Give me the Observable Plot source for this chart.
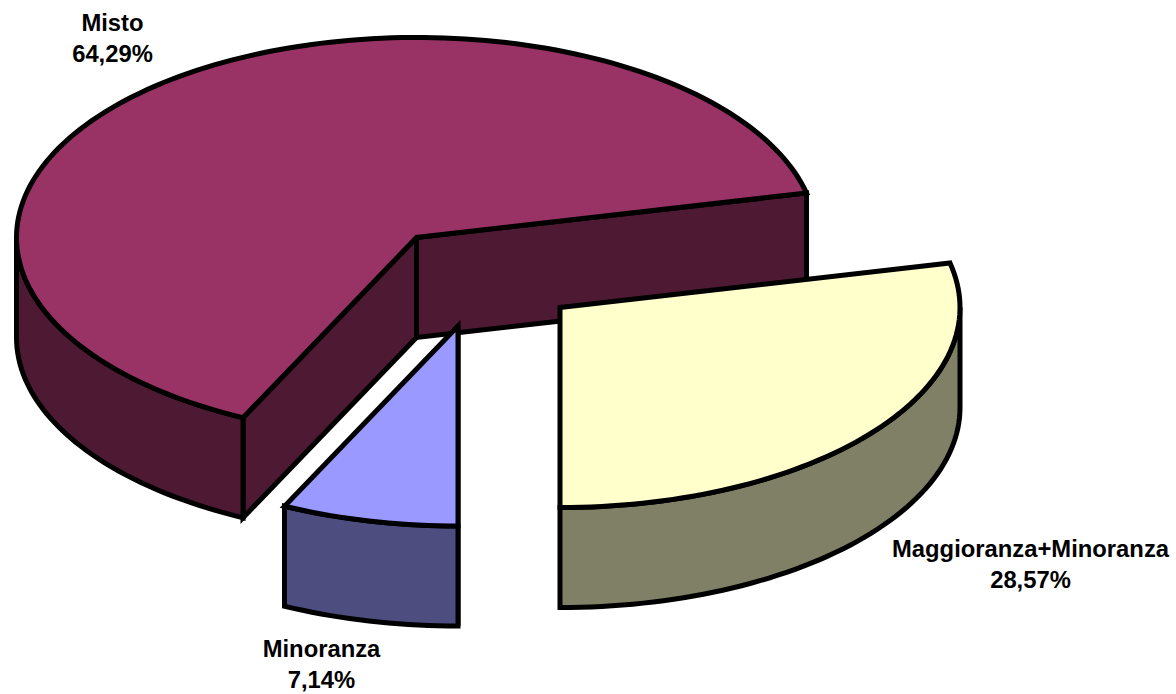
<!DOCTYPE html>
<html><head><meta charset="utf-8">
<script src="https://cdn.jsdelivr.net/npm/d3@7"></script>
<script src="https://cdn.jsdelivr.net/npm/@observablehq/plot@0.6"></script>
<style>html,body{margin:0;padding:0;background:#fff}svg{display:block}</style>
</head><body><div id="chart"></div>
<script>
const names = ["Misto", "Maggioranza+Minoranza", "Minoranza"];
const shares = [64.29, 28.57, 7.14];
const shareLabels = ["64,29%", "28,57%", "7,14%"];
const topColors = ["#993366", "#FFFFCC", "#9999FF"];
const sideColors = ["#4D1933", "#808066", "#4D4D80"];

// 3D projection of the pie
const rx = 400, ry = 200, depth = 100;
const centers = [[416, 237], [559.5, 307], [457.5, 325.5]];
const labelAnchors = [[112, 23], [1030, 549], [321, 649]];
const rad = d => d * Math.PI / 180;
const pt = (c, deg, dz = 0) => [c[0] + rx * Math.cos(rad(deg)), c[1] + ry * Math.sin(rad(deg)) + dz];
const arc = (c, a0, a1, dz = 0) => {
  const n = Math.max(2, Math.ceil(Math.abs(a1 - a0) / 1.5)), out = [];
  for (let i = 0; i <= n; i++) out.push(pt(c, a0 + (a1 - a0) * i / n, dz));
  return out;
};

// slice angles derived from the shares; Maggioranza+Minoranza ends at straight down
const deg = shares.map(s => s / d3.sum(shares) * 360);
const mEnd = 90, mStart = mEnd - deg[1];      // Maggioranza+Minoranza
const nStart = 90, nEnd = 90 + deg[2];        // Minoranza
const oStart = nEnd, oEnd = mStart + 360;     // Misto, clockwise round the back

const faces = [];
const add = (id, fill, pts) => pts.forEach(p => faces.push({id, fill, x: p[0], y: p[1]}));
const c0 = centers[0], c1 = centers[1], c2 = centers[2];
const down = p => [p[0], p[1] + depth];

// Misto walls
add("m-cutR", sideColors[0], [c0, pt(c0, mStart), down(pt(c0, mStart)), down(c0)]);
add("m-cutL", sideColors[0], [c0, pt(c0, oStart), down(pt(c0, oStart)), down(c0)]);
add("m-outer", sideColors[0], [...arc(c0, oStart, 180), ...arc(c0, 180, oStart, depth)]);
add("m-top", topColors[0], [c0, ...arc(c0, oStart, oEnd)]);
// Minoranza
add("n-cut", sideColors[2], [c2, pt(c2, nStart), down(pt(c2, nStart)), down(c2)]);
add("n-outer", sideColors[2], [...arc(c2, nStart, nEnd), ...arc(c2, nEnd, nStart, depth)]);
add("n-top", topColors[2], [c2, ...arc(c2, nStart, nEnd)]);
// Maggioranza+Minoranza
add("g-outer", sideColors[1], [...arc(c1, 0, 90), ...arc(c1, 90, 0, depth)]);
add("g-top", topColors[1], [c1, ...arc(c1, mStart, mEnd)]);

const labels = names.flatMap((n, i) => [
  {x: labelAnchors[i][0], y: labelAnchors[i][1], t: n},
  {x: labelAnchors[i][0], y: labelAnchors[i][1] + 31, t: shareLabels[i]}
]);

const chart = Plot.plot({
  width: 1176, height: 694, margin: 0,
  style: {background: "#fff"},
  x: {domain: [0, 1176], axis: null},
  y: {domain: [694, 0], axis: null},
  color: {type: "identity"},
  marks: [
    Plot.line(faces, {x: "x", y: "y", z: "id", fill: "fill", stroke: "#000", strokeWidth: 5,
      curve: "linear-closed", strokeLinejoin: "miter", strokeMiterlimit: 4}),
    Plot.text(labels, {x: "x", y: "y", text: "t", fontFamily: "Liberation Sans, Arial, sans-serif",
      fontWeight: 700, fontSize: 23.8, fill: "#000"})
  ]
});
document.getElementById("chart").append(chart);
</script></body></html>
